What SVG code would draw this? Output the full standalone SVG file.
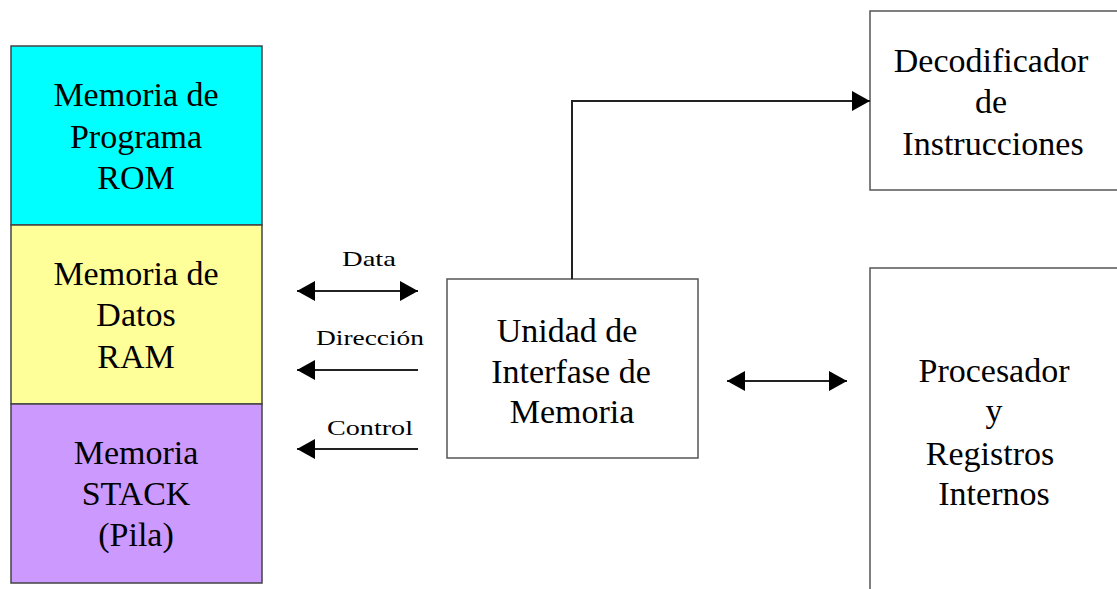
<svg xmlns="http://www.w3.org/2000/svg" width="1117" height="589" viewBox="0 0 1117 589">
<defs>
<marker id="ah" markerUnits="userSpaceOnUse" markerWidth="20" markerHeight="20" viewBox="0 0 18 20" refX="18" refY="10" orient="auto-start-reverse">
<path d="M0,0 L18,10 L0,20 z" fill="#000"/>
</marker>
<style>
.t{font-family:'Liberation Serif','DejaVu Serif',serif;font-size:34px;fill:#000;text-anchor:middle}
.s{font-family:'Liberation Serif','DejaVu Serif',serif;font-size:22px;fill:#000;text-anchor:middle}
.box{fill:#fff;stroke:#555;stroke-width:1.5}
.mem{stroke:#444;stroke-width:1.5}
.ln{fill:none;stroke:#222;stroke-width:2}
</style>
</defs>
<rect width="1117" height="589" fill="#fff"/>
<g id="rom">
<rect class="mem" x="11" y="46" width="251" height="179" fill="#00FFFF"/>
<text class="t" x="136" y="106">Memoria de</text>
<text class="t" x="136" y="148">Programa</text>
<text class="t" x="136" y="189">ROM</text>
</g>
<g id="ram">
<rect class="mem" x="11" y="225" width="251" height="179" fill="#FFFF99"/>
<text class="t" x="136" y="285">Memoria de</text>
<text class="t" x="136" y="326">Datos</text>
<text class="t" x="136" y="368">RAM</text>
</g>
<g id="stack">
<rect class="mem" x="11" y="404" width="251" height="179" fill="#CC99FF"/>
<text class="t" x="136" y="464">Memoria</text>
<text class="t" x="136" y="505">STACK</text>
<text class="t" x="136" y="546">(Pila)</text>
</g>
<g id="interfase">
<rect class="box" x="447" y="279" width="251" height="179"/>
<text class="t" x="567" y="342">Unidad de</text>
<text class="t" x="571" y="383">Interfase de</text>
<text class="t" x="572" y="423">Memoria</text>
</g>
<g id="decodificador">
<rect class="box" x="870" y="11" width="260" height="179"/>
<text class="t" x="991" y="72">Decodificador</text>
<text class="t" x="991" y="113">de</text>
<text class="t" x="993" y="155">Instrucciones</text>
</g>
<g id="procesador">
<rect class="box" x="870" y="268" width="260" height="340"/>
<text class="t" x="994" y="382">Procesador</text>
<text class="t" x="994" y="422">y</text>
<text class="t" x="990" y="465">Registros</text>
<text class="t" x="994" y="505">Internos</text>
</g>
<g id="connectors">
<path class="ln" d="M572,279 V101 H870" marker-end="url(#ah)"/>
<line class="ln" x1="297" y1="291" x2="418" y2="291" marker-start="url(#ah)" marker-end="url(#ah)"/>
<line class="ln" x1="418" y1="370" x2="297" y2="370" marker-end="url(#ah)"/>
<line class="ln" x1="418" y1="449" x2="297" y2="449" marker-end="url(#ah)"/>
<line class="ln" x1="727" y1="381" x2="847" y2="381" marker-start="url(#ah)" marker-end="url(#ah)"/>
<text class="s" x="369" y="266" textLength="54" lengthAdjust="spacingAndGlyphs">Data</text>
<text class="s" x="370" y="345" textLength="108" lengthAdjust="spacingAndGlyphs">Dirección</text>
<text class="s" x="370" y="435" textLength="86" lengthAdjust="spacingAndGlyphs">Control</text>
</g>
</svg>
